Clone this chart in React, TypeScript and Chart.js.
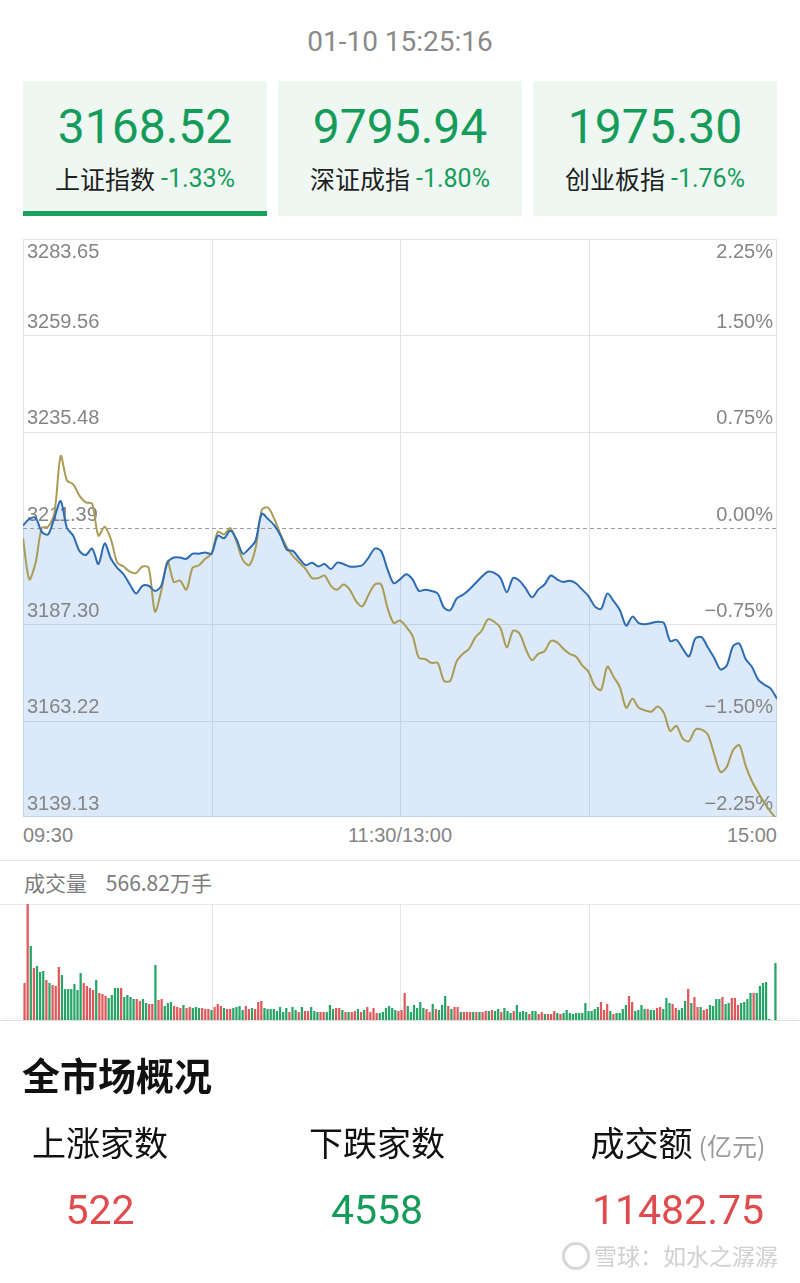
import React, { useEffect, useRef } from "react";
import { Chart, registerables } from "chart.js";

Chart.register(...registerables);

// ---------------- data ----------------
const timestamp = "01-10 15:25:16";
const indexNames = ["上证指数", "深证成指", "创业板指"];
const indexValues = ["3168.52", "9795.94", "1975.30"];
const indexChanges = ["-1.33%", "-1.80%", "-1.76%"];

// minutes since 09:30 (trading minutes, 0..240), sampled every 2 minutes
const priceMinutes = [
  0, 2, 4, 6, 8, 10, 12, 14, 16, 18, 20, 22, 24, 26, 28, 30, 32, 34, 36, 38,
  40, 42, 44, 46, 48, 50, 52, 54, 56, 58, 60, 62, 64, 66, 68, 70, 72, 74, 76, 78,
  80, 82, 84, 86, 88, 90, 92, 94, 96, 98, 100, 102, 104, 106, 108, 110, 112, 114, 116, 118,
  120, 122, 124, 126, 128, 130, 132, 134, 136, 138, 140, 142, 144, 146, 148, 150, 152, 154, 156, 158,
  160, 162, 164, 166, 168, 170, 172, 174, 176, 178, 180, 182, 184, 186, 188, 190, 192, 194, 196, 198,
  200, 202, 204, 206, 208, 210, 212, 214, 216, 218, 220, 222, 224, 226, 228, 230, 232, 234, 236, 238,
  240,
];

// 上证指数 change vs previous close (%)
const shIndexPct = [
  0.02, 0.07, 0.08, -0.03, -0.05, 0.08, 0.21, 0.0, -0.06, -0.18,
  -0.21, -0.16, -0.28, -0.12, -0.24, -0.31, -0.36, -0.44, -0.51, -0.45,
  -0.45, -0.49, -0.45, -0.27, -0.23, -0.23, -0.24, -0.2, -0.2, -0.19,
  -0.2, -0.06, -0.08, -0.02, -0.09, -0.2, -0.16, -0.1, 0.11, 0.07,
  0.02, -0.06, -0.17, -0.18, -0.24, -0.29, -0.27, -0.3, -0.28, -0.32,
  -0.27, -0.28, -0.3, -0.3, -0.29, -0.23, -0.16, -0.18, -0.32, -0.43,
  -0.4, -0.36, -0.4, -0.49, -0.48, -0.49, -0.51, -0.62, -0.64, -0.55,
  -0.52, -0.48, -0.43, -0.38, -0.34, -0.35, -0.39, -0.5, -0.39, -0.41,
  -0.47, -0.54, -0.48, -0.44, -0.37, -0.4, -0.42, -0.41, -0.43, -0.48,
  -0.53, -0.61, -0.63, -0.51, -0.57, -0.64, -0.76, -0.69, -0.74, -0.75,
  -0.74, -0.73, -0.74, -0.88, -0.87, -0.94, -1.0, -0.86, -0.85, -0.93,
  -1.01, -1.1, -1.07, -0.92, -0.9, -1.02, -1.08, -1.18, -1.22, -1.25,
  -1.33,
];

// equal-weighted (yellow) line change (%)
const avgIndexPct = [
  -0.08, -0.4, -0.27, 0.0, 0.01, 0.12, 0.56, 0.37, 0.34, 0.25,
  0.2, 0.19, -0.06, 0.01, -0.09, -0.27, -0.3, -0.34, -0.35, -0.3,
  -0.31, -0.65, -0.49, -0.26, -0.42, -0.41, -0.48, -0.31, -0.29, -0.24,
  -0.2, -0.03, -0.05, 0.0, -0.11, -0.25, -0.29, -0.16, 0.14, 0.16,
  0.07, -0.05, -0.15, -0.22, -0.27, -0.32, -0.39, -0.39, -0.37, -0.45,
  -0.48, -0.44, -0.48, -0.57, -0.61, -0.52, -0.44, -0.44, -0.62, -0.74,
  -0.72, -0.77, -0.84, -1.01, -1.02, -1.05, -1.05, -1.19, -1.19, -1.04,
  -0.98, -0.94, -0.85, -0.8, -0.71, -0.73, -0.78, -0.93, -0.8, -0.82,
  -0.94, -1.03, -0.98, -0.96, -0.88, -0.89, -0.94, -0.98, -1.0, -1.07,
  -1.12, -1.23, -1.26, -1.08, -1.16, -1.24, -1.4, -1.33, -1.4, -1.42,
  -1.43, -1.39, -1.44, -1.58, -1.54, -1.64, -1.66, -1.57, -1.57, -1.61,
  -1.76, -1.9, -1.86, -1.73, -1.69, -1.85, -1.97, -2.06, -2.14, -2.21,
  -2.27,
];

const tickValues = [2.25, 1.5, 0.75, 0, -0.75, -1.5, -2.25];
const leftTickLabels = ["3283.65", "3259.56", "3235.48", "3211.39", "3187.30", "3163.22", "3139.13"];
const rightTickLabels = ["2.25%", "1.50%", "0.75%", "0.00%", "\u22120.75%", "\u22121.50%", "\u22122.25%"];
const timeLabels = ["09:30", "11:30/13:00", "15:00"];
const gridMinutes = [60, 120, 180];

// per-minute volume (relative units) and direction (1 = up/red, 0 = down/green)
const volumes = [
  37, 116, 74, 52, 54, 48, 49, 40, 37, 35,
  34, 53, 45, 31, 31, 31, 36, 30, 47, 37,
  34, 32, 30, 40, 27, 26, 24, 22, 25, 32,
  32, 32, 23, 25, 23, 21, 21, 19, 21, 17,
  16, 16, 55, 20, 21, 14, 17, 18, 14, 13,
  12, 15, 12, 13, 12, 13, 12, 12, 11, 11,
  10, 13, 16, 14, 12, 11, 11, 12, 13, 14,
  10, 14, 11, 12, 11, 18, 19, 12, 11, 11,
  11, 9, 13, 8, 12, 8, 13, 10, 8, 13,
  9, 9, 13, 9, 8, 8, 8, 8, 15, 11,
  12, 12, 10, 8, 8, 8, 9, 11, 8, 10,
  13, 8, 12, 7, 7, 8, 12, 14, 12, 10,
  9,
  10, 27, 14, 8, 15, 12, 18, 12, 11, 8,
  16, 11, 10, 15, 24, 14, 11, 13, 13, 8,
  8, 8, 8, 8, 8, 8, 8, 9, 9, 10,
  9, 11, 8, 12, 9, 7, 9, 15, 8, 9,
  8, 6, 9, 9, 6, 8, 6, 6, 6, 9,
  7, 6, 7, 10, 7, 6, 7, 7, 7, 17,
  9, 9, 11, 13, 18, 10, 16, 9, 6, 7,
  7, 11, 15, 24, 18, 9, 10, 15, 11, 11,
  10, 10, 12, 13, 11, 22, 17, 16, 12, 10,
  12, 19, 31, 17, 23, 13, 13, 10, 11, 15,
  14, 21, 21, 23, 16, 17, 22, 22, 15, 17,
  18, 21, 27, 27, 27, 34, 37, 38, 1, 0,
  57,
];
const volumeUp = [
  1, 1, 0, 1, 0, 0, 0, 1, 0, 1,
  1, 1, 0, 0, 0, 0, 0, 0, 0, 1,
  1, 1, 1, 0, 1, 1, 1, 0, 0, 0,
  0, 1, 0, 0, 0, 0, 1, 1, 0, 0,
  1, 1, 0, 1, 1, 0, 0, 0, 1, 1,
  1, 0, 1, 1, 0, 0, 0, 1, 1, 1,
  0, 1, 1, 1, 0, 1, 1, 0, 0, 0,
  0, 1, 1, 0, 1, 1, 1, 0, 0, 0,
  0, 0, 0, 0, 0, 1, 0, 0, 1, 0,
  1, 1, 0, 0, 0, 1, 1, 0, 0, 0,
  1, 1, 0, 1, 0, 1, 1, 0, 1, 0,
  1, 1, 1, 1, 0, 0, 0, 0, 0, 0,
  1,
  1, 1, 0, 0, 0, 0, 0, 0, 1, 1,
  0, 1, 0, 0, 0, 1, 0, 1, 1, 0,
  1, 1, 1, 0, 1, 0, 1, 1, 0, 1,
  0, 0, 1, 0, 0, 0, 1, 0, 0, 0,
  0, 1, 0, 0, 1, 1, 0, 1, 1, 1,
  0, 1, 0, 0, 0, 0, 0, 0, 0, 0,
  0, 0, 0, 0, 1, 1, 1, 0, 1, 0,
  0, 0, 0, 1, 1, 0, 0, 0, 0, 1,
  0, 0, 1, 1, 0, 0, 0, 1, 1, 0,
  0, 0, 1, 0, 1, 1, 0, 1, 1, 0,
  0, 0, 0, 1, 0, 0, 1, 1, 1, 0,
  0, 0, 0, 1, 0, 0, 0, 0, 0, 0,
  0,
];
const volumeTotal = "566.82万手";

const marketLabels = ["上涨家数", "下跌家数", "成交额"];
const marketValues = ["522", "4558", "11482.75"];

// ---------------- styles ----------------
const GREEN = "#169c5a";
const RED = "#e04b4d";
const BLUE = "#2d6bb2";
const GOLD = "#aa9c56";
const FONT_NUM = "Roboto, 'Noto Sans', sans-serif";
const FONT_CJK = "'Noto Sans CJK SC', 'Noto Sans', sans-serif";
const FONT_AXIS = "'Liberation Sans', Arial, sans-serif";

const pricePlugin = {
  id: "priceDecor",
  beforeDraw(chart: any) {
    const { ctx, chartArea: a, scales } = chart;
    const x = scales.x;
    const y = scales.y;
    ctx.save();
    ctx.strokeStyle = "#e3e3e3";
    ctx.lineWidth = 1;
    tickValues.forEach((v) => {
      if (v === 0 || v === 2.25 || v === -2.25) return;
      const py = Math.round(y.getPixelForValue(v)) + 0.5;
      ctx.beginPath();
      ctx.moveTo(a.left, py);
      ctx.lineTo(a.right, py);
      ctx.stroke();
    });
    gridMinutes.forEach((m) => {
      const px = Math.round(x.getPixelForValue(m)) + 0.5;
      ctx.beginPath();
      ctx.moveTo(px, a.top);
      ctx.lineTo(px, a.bottom);
      ctx.stroke();
    });
    ctx.strokeRect(a.left + 0.5, a.top + 0.5, a.width - 1, a.height - 1);
    ctx.restore();
  },
  beforeDatasetsDraw(chart: any) {
    const { ctx, chartArea: a, scales } = chart;
    const y = scales.y;
    ctx.save();
    const y0 = Math.round(y.getPixelForValue(0)) + 0.5;
    ctx.setLineDash([4, 3]);
    ctx.strokeStyle = "#9c9c9c";
    ctx.lineWidth = 1;
    ctx.beginPath();
    ctx.moveTo(a.left, y0);
    ctx.lineTo(a.right, y0);
    ctx.stroke();
    ctx.setLineDash([]);
    ctx.font = "20px " + FONT_AXIS;
    ctx.fillStyle = "#858585";
    ctx.textBaseline = "middle";
    tickValues.forEach((v, i) => {
      const py = y.getPixelForValue(v);
      const ty = i === 0 ? py + 13 : py - 13;
      ctx.textAlign = "left";
      ctx.fillText(leftTickLabels[i], a.left + 4, ty);
      ctx.textAlign = "right";
      ctx.fillText(rightTickLabels[i], a.right - 4, ty);
    });
    ctx.restore();
  },
};

const volumePlugin = {
  id: "volDecor",
  beforeDraw(chart: any) {
    const { ctx, chartArea: a } = chart;
    ctx.save();
    ctx.strokeStyle = "#e6e6e6";
    ctx.lineWidth = 1;
    [1, 2, 3].forEach((k) => {
      const px = Math.round(a.left + (a.width * k) / 4) + 0.5;
      ctx.beginPath();
      ctx.moveTo(px, a.top);
      ctx.lineTo(px, a.bottom);
      ctx.stroke();
    });
    ctx.restore();
  },
};

function PriceChart() {
  const ref = useRef<HTMLCanvasElement>(null);
  useEffect(() => {
    const chart = new Chart(ref.current as HTMLCanvasElement, {
      type: "line",
      data: {
        datasets: [
          {
            label: "上证指数",
            data: priceMinutes.map((m, i) => ({ x: m, y: shIndexPct[i] })),
            borderColor: BLUE,
            borderWidth: 2,
            pointRadius: 0,
            tension: 0.3,
            fill: "start",
            backgroundColor: "rgba(74,144,226,0.2)",
          },
          {
            label: "均价",
            data: priceMinutes.map((m, i) => ({ x: m, y: avgIndexPct[i] })),
            borderColor: GOLD,
            borderWidth: 2,
            pointRadius: 0,
            tension: 0.3,
            fill: false,
          },
        ],
      },
      options: {
        animation: false,
        responsive: false,
        maintainAspectRatio: false,
        layout: { padding: 0 },
        plugins: {
          legend: { display: false },
          tooltip: { enabled: false },
          filler: { drawTime: "beforeDatasetsDraw" },
        } as any,
        scales: {
          x: { type: "linear", min: 0, max: 240, display: false },
          y: { type: "linear", min: -2.25, max: 2.25, display: false },
        },
      },
      plugins: [pricePlugin],
    } as any);
    return () => chart.destroy();
  }, []);
  return (
    <canvas
      ref={ref}
      width={754}
      height={578}
      style={{ position: "absolute", left: 23, top: 239, width: 754, height: 578 }}
    />
  );
}

function VolumeChart() {
  const ref = useRef<HTMLCanvasElement>(null);
  useEffect(() => {
    const chart = new Chart(ref.current as HTMLCanvasElement, {
      type: "bar",
      data: {
        labels: volumes.map((_, i) => String(i)),
        datasets: [
          {
            data: volumes,
            backgroundColor: volumeUp.map((u) => (u ? "#e0585b" : "#27a566")),
            barPercentage: 0.72,
            categoryPercentage: 1,
          },
        ],
      },
      options: {
        animation: false,
        responsive: false,
        maintainAspectRatio: false,
        layout: { padding: 0 },
        plugins: { legend: { display: false }, tooltip: { enabled: false } },
        scales: {
          x: { display: false },
          y: { display: false, min: 0, max: Math.max(...volumes) },
        },
      },
      plugins: [volumePlugin],
    } as any);
    return () => chart.destroy();
  }, []);
  return (
    <canvas
      ref={ref}
      width={754}
      height={116}
      style={{ position: "absolute", left: 23, top: 904, width: 754, height: 116 }}
    />
  );
}

function Line({ top }: { top: number }) {
  return <div style={{ position: "absolute", left: 0, top, width: 800, height: 1, background: "#e8e8e8" }} />;
}

export default function App() {
  return (
    <div
      style={{
        position: "absolute",
        left: 0,
        top: 0,
        width: 800,
        height: 1283,
        background: "#fff",
        overflow: "hidden",
      }}
    >
      {/* timestamp */}
      <div
        style={{
          position: "absolute",
          left: 0,
          width: 800,
          top: 22,
          height: 40,
          lineHeight: "40px",
          textAlign: "center",
          fontFamily: FONT_NUM,
          fontSize: 28,
          color: "#8a8a8a",
        }}
      >
        {timestamp}
      </div>

      {/* index cards */}
      {indexNames.map((name, i) => (
        <div
          key={name}
          style={{
            position: "absolute",
            left: 23 + i * 255,
            top: 81,
            width: 244,
            height: 135,
            background: "#eef7f2",
          }}
        >
          <div
            style={{
              position: "absolute",
              left: 0,
              width: 244,
              top: 22,
              height: 48,
              lineHeight: "48px",
              textAlign: "center",
              fontFamily: FONT_NUM,
              fontSize: 48,
              color: GREEN,
            }}
          >
            {indexValues[i]}
          </div>
          <div
            style={{
              position: "absolute",
              left: 0,
              width: 244,
              top: 82,
              height: 30,
              display: "flex",
              justifyContent: "center",
              alignItems: "center",
              whiteSpace: "nowrap",
            }}
          >
            <span style={{ fontFamily: FONT_CJK, fontSize: 25, color: "#1e1e1e" }}>{name}</span>
            <span style={{ fontFamily: FONT_NUM, fontSize: 25, color: GREEN, marginLeft: 6 }}>
              {indexChanges[i]}
            </span>
          </div>
          {i === 0 && (
            <div style={{ position: "absolute", left: 0, bottom: 0, width: 244, height: 5, background: "#18a05c" }} />
          )}
        </div>
      ))}

      {/* price chart */}
      <PriceChart />
      <div
        style={{
          position: "absolute",
          left: 23,
          width: 754,
          top: 824,
          height: 24,
          fontFamily: FONT_AXIS,
          fontSize: 20,
          color: "#858585",
        }}
      >
        <span style={{ position: "absolute", left: 0, top: 0 }}>{timeLabels[0]}</span>
        <span style={{ position: "absolute", left: 0, width: 754, textAlign: "center", top: 0 }}>{timeLabels[1]}</span>
        <span style={{ position: "absolute", right: 0, top: 0 }}>{timeLabels[2]}</span>
      </div>

      <Line top={860} />
      <div
        style={{
          position: "absolute",
          left: 24,
          top: 867,
          height: 30,
          lineHeight: "30px",
          whiteSpace: "pre",
          fontFamily: FONT_CJK,
          fontSize: 21,
          color: "#7c7c7c",
        }}
      >
        {"成交量    " + volumeTotal}
      </div>
      <Line top={904} />
      <VolumeChart />
      <Line top={1020} />

      {/* market overview */}
      <div
        style={{
          position: "absolute",
          left: 0,
          top: 1021,
          width: 800,
          height: 262,
          background: "#fff",
          boxShadow: "0 -3px 6px rgba(0,0,0,0.05)",
        }}
      />
      <div
        style={{
          position: "absolute",
          left: 22,
          top: 1050,
          height: 48,
          lineHeight: "48px",
          fontFamily: FONT_CJK,
          fontSize: 38,
          fontWeight: 700,
          color: "#111",
        }}
      >
        全市场概况
      </div>
      {marketLabels.map((lab, i) => {
        const cx = [100, 377, 678][i];
        return (
          <React.Fragment key={lab}>
            <div
              style={{
                position: "absolute",
                left: cx - 150,
                width: 300,
                top: 1120,
                height: 44,
                display: "flex",
                justifyContent: "center",
                alignItems: "baseline",
                whiteSpace: "nowrap",
              }}
            >
              <span style={{ fontFamily: FONT_CJK, fontSize: 34, color: "#111", lineHeight: "44px" }}>{lab}</span>
              {i === 2 && (
                <span style={{ fontFamily: FONT_CJK, fontSize: 25, color: "#9a9a9a", marginLeft: 6 }}>(亿元)</span>
              )}
            </div>
            <div
              style={{
                position: "absolute",
                left: cx - 150,
                width: 300,
                top: 1186,
                height: 48,
                lineHeight: "48px",
                textAlign: "center",
                fontFamily: FONT_NUM,
                fontSize: 41,
                color: i === 1 ? GREEN : RED,
              }}
            >
              {marketValues[i]}
            </div>
          </React.Fragment>
        );
      })}

      {/* watermark */}
      <div
        style={{
          position: "absolute",
          left: 562,
          top: 1242,
          width: 22,
          height: 22,
          borderRadius: 14,
          border: "3px solid #d6d6d6",
        }}
      />
      <div
        style={{
          position: "absolute",
          left: 594,
          top: 1239,
          height: 32,
          lineHeight: "32px",
          fontFamily: FONT_CJK,
          fontSize: 23,
          color: "#d0d0d0",
          whiteSpace: "nowrap",
        }}
      >
        雪球：如水之潺潺
      </div>
    </div>
  );
}
